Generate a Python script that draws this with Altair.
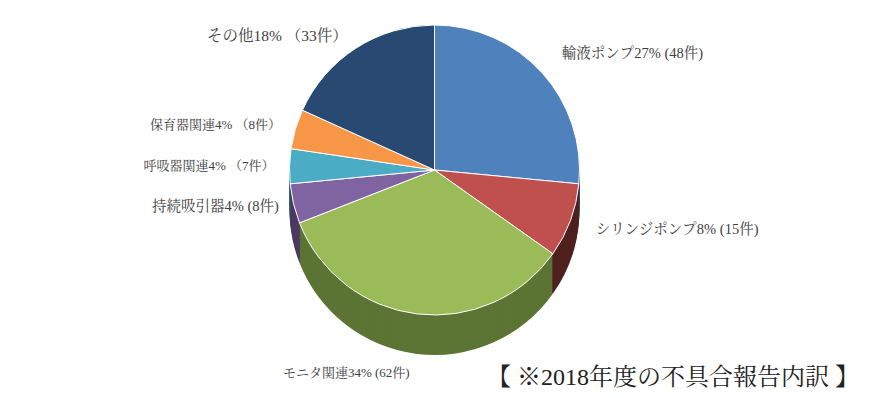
import altair as alt
import pandas as pd

categories = ["輸液ポンプ", "シリンジポンプ", "モニタ関連", "持続吸引器", "呼吸器関連", "保育器関連", "その他"]
counts = [48, 15, 62, 8, 7, 8, 33]
label_texts = [
    "輸液ポンプ27% (48件)",
    "シリンジポンプ8% (15件)",
    "モニタ関連34% (62件)",
    "持続吸引器4% (8件)",
    "呼吸器関連4% （7件）",
    "保育器関連4% （8件）",
    "その他18% （33件）",
]
label_group = ["right", "right", "bottom", "left_big", "left", "left", "top"]
top_colors = ["#4F81BD", "#C0504D", "#9BBB59", "#8064A2", "#4BACC6", "#F79646", "#284A72"]
side_colors = ["#2E4D73", "#4F201F", "#5C7434", "#4B3A62", "#2C6878", "#94592A", "#17304D"]

df = pd.DataFrame({
    "cat": categories,
    "side_cat": categories,
    "count": counts,
    "label": label_texts,
    "group": label_group,
    "order": list(range(len(categories))),
})

FONT = "Liberation Serif, Noto Serif CJK JP, Noto Sans CJK JP"
RADIUS = 145
DEPTH = 40

base = alt.Chart(df).encode(
    theta=alt.Theta("count:Q", stack=True),
    order=alt.Order("order:Q"),
)

side_scale = alt.Scale(domain=categories, range=side_colors)
top_scale = alt.Scale(domain=categories, range=top_colors)

side_layers = []
for d in range(DEPTH, 0, -2):
    side_layers.append(
        base.mark_arc(radius=RADIUS, yOffset=d).encode(
            color=alt.Color("side_cat:N", scale=side_scale, legend=None)
        )
    )
sides = alt.layer(*side_layers)

top = base.mark_arc(radius=RADIUS, stroke="white", strokeWidth=1).encode(
    color=alt.Color("cat:N", scale=top_scale, legend=None)
)

def label_layer(group, align, radius, size):
    return base.mark_text(
        radius=radius, align=align, baseline="middle", font=FONT,
        fontSize=size, color="#404040",
    ).encode(
        text=alt.condition(f"datum.group == '{group}'", "label:N", alt.value(""))
    )

chart = alt.layer(
    sides, top,
    label_layer("left", "right", 160, 13),
    label_layer("left_big", "right", 160, 14.5),
    label_layer("top", "right", 160, 15.5),
    label_layer("right", "left", 172, 14.5),
    label_layer("bottom", "right", 205, 13),
).resolve_scale(color="independent").properties(
    width=869,
    height=340,
    autosize="none",
    padding={"left": 0, "top": 0, "right": 0, "bottom": 58},
    title=alt.TitleParams(
        "【 ※2018年度の不具合報告内訳 】",
        orient="bottom", anchor="end", font=FONT, fontSize=24,
        fontWeight="normal", color="#222222", offset=-14, baseline="top", dx=-10,
    ),
).configure_view(strokeWidth=0)

chart.save("out.html", embed_options={"renderer": "svg", "actions": False})
